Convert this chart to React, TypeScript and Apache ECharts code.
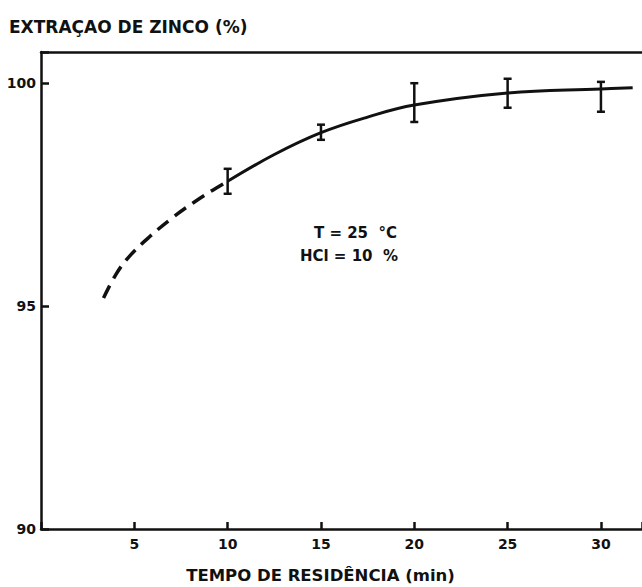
import React, { useEffect, useRef } from "react";
import * as echarts from "echarts";

const xTicks = [5, 10, 15, 20, 25, 30];
const yTicks = [90, 95, 100];

// solid fitted curve (min, %)
const solidX = [10, 12.5, 15, 17.5, 20, 25, 30, 31.7];
const solidY = [97.8, 98.4, 98.89, 99.24, 99.51, 99.78, 99.87, 99.9];

// dashed extrapolation
const dashX = [3.35, 4.0, 4.7, 5.8, 7.1, 8.2, 9.2, 10];
const dashY = [95.18, 95.7, 96.1, 96.55, 97.0, 97.33, 97.6, 97.8];

// error bars
const errX = [10, 15, 20, 25, 30];
const errLow = [97.52, 98.73, 99.13, 99.45, 99.36];
const errHigh = [98.08, 99.07, 100.0, 100.1, 100.03];

const INK = "#111";
const FONT = "DejaVu Sans";

export default function App() {
  const ref = useRef<HTMLDivElement>(null);
  useEffect(() => {
    if (!ref.current) return;
    const chart = echarts.init(ref.current, null, { renderer: "svg" });
    const tickLabel = {
      color: INK,
      fontFamily: FONT,
      fontWeight: "bold" as const,
      fontSize: 14,
    };
    chart.setOption({
      animation: false,
      backgroundColor: "#fff",
      grid: {
        left: 41,
        right: 0,
        top: 52,
        bottom: 58,
        containLabel: false,
        outerBoundsMode: "none",
      },
      xAxis: [
        {
          type: "value",
          min: 0,
          max: 32.2,
          interval: 5,
          position: "bottom",
          axisLine: { lineStyle: { color: INK, width: 2.5 } },
          axisTick: { inside: true, length: 7, lineStyle: { color: INK, width: 2.5 } },
          axisLabel: {
            ...tickLabel,
            margin: 8,
            formatter: (v: number) => (xTicks.includes(v) ? String(v) : ""),
          },
          splitLine: { show: false },
          name: "TEMPO DE RESIDÊNCIA (min)",
          nameLocation: "middle",
          nameGap: 38,
          nameTextStyle: { ...tickLabel, fontSize: 16.5, padding: [0, 42, 0, 0] },
        },
        {
          type: "value",
          min: 0,
          max: 32.2,
          position: "top",
          axisLine: { show: true, lineStyle: { color: INK, width: 2.5 } },
          axisTick: { show: false },
          axisLabel: { show: false },
          splitLine: { show: false },
        },
      ],
      yAxis: {
        type: "value",
        min: 90,
        max: 100.7,
        interval: 5,
        axisLine: { show: true, lineStyle: { color: INK, width: 2.5 } },
        axisTick: { show: true, inside: true, length: 8, lineStyle: { color: INK, width: 2.5 } },
        axisLabel: {
          ...tickLabel,
          margin: 5,
          formatter: (v: number) => (yTicks.includes(v) ? String(v) : ""),
        },
        splitLine: { show: false },
      },
      graphic: [
        {
          type: "text",
          left: 9,
          top: 18,
          style: {
            text: "EXTRAÇAO DE ZINCO (%)",
            fill: INK,
            font: `bold 17px "${FONT}"`,
          },
        },
        {
          type: "text",
          x: 397,
          y: 233,
          style: {
            text: "T = 25  °C",
            fill: INK,
            font: `bold 15px "${FONT}"`,
            align: "right",
            verticalAlign: "middle",
          },
        },
        {
          type: "text",
          x: 398,
          y: 256,
          style: {
            text: "HCl = 10  %",
            fill: INK,
            font: `bold 15px "${FONT}"`,
            align: "right",
            verticalAlign: "middle",
          },
        },
      ],
      series: [
        {
          type: "line",
          data: solidX.map((x, i) => [x, solidY[i]]),
          smooth: 0.4,
          showSymbol: false,
          lineStyle: { color: INK, width: 3 },
          z: 3,
        },
        {
          type: "line",
          data: dashX.map((x, i) => [x, dashY[i]]),
          smooth: 0.4,
          showSymbol: false,
          lineStyle: { color: INK, width: 3.5, type: [14, 8] },
          z: 3,
        },
        {
          type: "custom",
          data: errX.map((x, i) => [x, errLow[i], errHigh[i]]),
          renderItem: (params: any, api: any) => {
            const lo = api.coord([api.value(0), api.value(1)]);
            const hi = api.coord([api.value(0), api.value(2)]);
            const w = 4;
            const style = { stroke: INK, lineWidth: 2.5 };
            return {
              type: "group",
              children: [
                { type: "line", shape: { x1: lo[0], y1: lo[1], x2: hi[0], y2: hi[1] }, style },
                { type: "line", shape: { x1: lo[0] - w, y1: lo[1], x2: lo[0] + w, y2: lo[1] }, style },
                { type: "line", shape: { x1: hi[0] - w, y1: hi[1], x2: hi[0] + w, y2: hi[1] }, style },
              ],
            };
          },
          z: 4,
        },
      ],
    });
    return () => chart.dispose();
  }, []);
  return <div ref={ref} style={{ width: 642, height: 587, position: "absolute", left: 0, top: 0 }} />;
}
